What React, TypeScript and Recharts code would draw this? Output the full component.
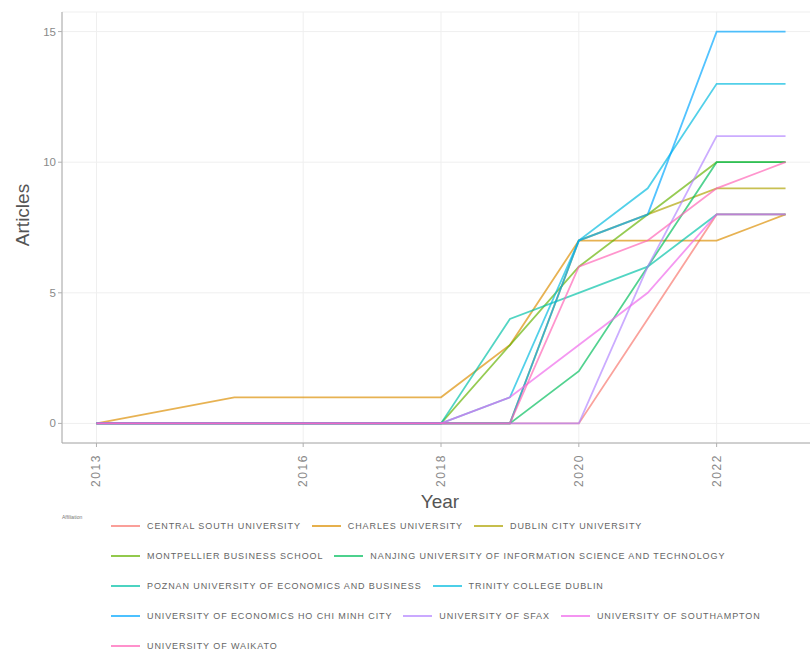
import React from "react";
import { LineChart, Line, XAxis, YAxis, CartesianGrid } from "recharts";

const years = [2013, 2015, 2018, 2019, 2020, 2021, 2022, 2023];

const affiliations = [
  "CENTRAL SOUTH UNIVERSITY",
  "CHARLES UNIVERSITY",
  "DUBLIN CITY UNIVERSITY",
  "MONTPELLIER BUSINESS SCHOOL",
  "NANJING UNIVERSITY OF INFORMATION SCIENCE AND TECHNOLOGY",
  "POZNAN UNIVERSITY OF ECONOMICS AND BUSINESS",
  "TRINITY COLLEGE DUBLIN",
  "UNIVERSITY OF ECONOMICS HO CHI MINH CITY",
  "UNIVERSITY OF SFAX",
  "UNIVERSITY OF SOUTHAMPTON",
  "UNIVERSITY OF WAIKATO",
];

const colors = [
  "#F8766D", "#DB8E00", "#AEA200", "#64B200", "#00BD5C", "#00C1A7",
  "#00BADE", "#00A6FF", "#B385FF", "#EF67EB", "#FF63B6",
];

const centralSouth = [0, 0, 0, 0, 0, 4, 8, 8];
const charles = [0, 1, 1, 3, 7, 7, 7, 8];
const dublinCity = [0, 0, 0, 0, 7, 8, 9, 9];
const montpellier = [0, 0, 0, 3, 6, 8, 10, 10];
const nanjing = [0, 0, 0, 0, 2, 6, 10, 10];
const poznan = [0, 0, 0, 4, 5, 6, 8, 8];
const trinity = [0, 0, 0, 1, 7, 9, 13, 13];
const hoChiMinh = [0, 0, 0, 0, 7, 8, 15, 15];
const sfax = [0, 0, 0, 0, 0, 6, 11, 11];
const southampton = [0, 0, 0, 1, 3, 5, 8, 8];
const waikato = [0, 0, 0, 0, 6, 7, 9, 10];

const seriesValues = [
  centralSouth, charles, dublinCity, montpellier, nanjing, poznan,
  trinity, hoChiMinh, sfax, southampton, waikato,
];

const xTicks = [2013, 2016, 2018, 2020, 2022];
const yTicks = [0, 5, 10, 15];

const legendRows = [[0, 1, 2], [3, 4], [5, 6], [7, 8, 9], [10]];

const data = years.map((year, i) => {
  const row: Record<string, number> = { year };
  seriesValues.forEach((vals, s) => {
    row["s" + s] = vals[i];
  });
  return row;
});

const XTick = (props: any) => {
  const { x, y, payload } = props;
  const ty = y + 5;
  return (
    <text
      x={x}
      y={ty}
      transform={`rotate(-90 ${x} ${ty})`}
      textAnchor="end"
      dominantBaseline="central"
      fontSize={12}
      letterSpacing={1.6}
      fill="#8a8a8a"
      fontFamily="'Liberation Sans', Arial, sans-serif"
    >
      {payload.value}
    </text>
  );
};

export default function App() {
  return (
    <div
      style={{
        position: "absolute",
        left: 0,
        top: 0,
        width: 810,
        height: 652,
        background: "#ffffff",
        overflow: "hidden",
        fontFamily: "'Liberation Sans', Arial, sans-serif",
      }}
    >
      <LineChart
        width={820}
        height={520}
        data={data}
        margin={{ top: 12, right: 0, bottom: 0, left: 0 }}
      >
        <CartesianGrid stroke="#efefef" strokeWidth={1} />
        <XAxis
          type="number"
          dataKey="year"
          domain={[2012.5, 2023.5]}
          ticks={xTicks}
          allowDataOverflow
          height={77}
          tick={<XTick />}
          tickLine={{ stroke: "#b0b0b0" }}
          tickSize={4}
          axisLine={{ stroke: "#a8a8a8" }}
        />
        <YAxis
          type="number"
          domain={[-0.75, 15.75]}
          ticks={yTicks}
          allowDataOverflow
          width={62}
          tick={{ fontSize: 11.5, fill: "#8a8a8a" }}
          tickLine={{ stroke: "#b0b0b0" }}
          tickSize={4}
          axisLine={{ stroke: "#a8a8a8" }}
        />
        {seriesValues.map((_, s) => (
          <Line
            key={s}
            type="linear"
            dataKey={"s" + s}
            stroke={colors[s]}
            strokeWidth={1.8}
            strokeOpacity={0.68}
            dot={false}
            isAnimationActive={false}
          />
        ))}
      </LineChart>

      <div
        style={{
          position: "absolute",
          left: 23,
          top: 215,
          transform: "translate(-50%, -50%) rotate(-90deg)",
          fontSize: 19,
          color: "#555",
          lineHeight: "20px",
          whiteSpace: "nowrap",
        }}
      >
        Articles
      </div>

      <div
        style={{
          position: "absolute",
          left: 390,
          top: 492,
          width: 100,
          textAlign: "center",
          fontSize: 19,
          color: "#555",
          lineHeight: "20px",
        }}
      >
        Year
      </div>

      <div
        style={{
          position: "absolute",
          left: 62,
          top: 514,
          fontSize: 5,
          color: "#777",
        }}
      >
        Affiliation
      </div>

      {legendRows.map((row, r) => (
        <div
          key={r}
          style={{
            position: "absolute",
            left: 111,
            top: 519 + r * 30,
            height: 14,
            display: "flex",
            alignItems: "center",
            whiteSpace: "nowrap",
          }}
        >
          {row.map((idx) => (
            <div
              key={idx}
              style={{ display: "flex", alignItems: "center", marginRight: 11 }}
            >
              <div
                style={{
                  width: 29,
                  height: 2,
                  background: colors[idx],
                  opacity: 0.7,
                  marginRight: 7,
                }}
              />
              <span style={{ fontSize: 9, letterSpacing: 0.9, color: "#666" }}>
                {affiliations[idx]}
              </span>
            </div>
          ))}
        </div>
      ))}
    </div>
  );
}
